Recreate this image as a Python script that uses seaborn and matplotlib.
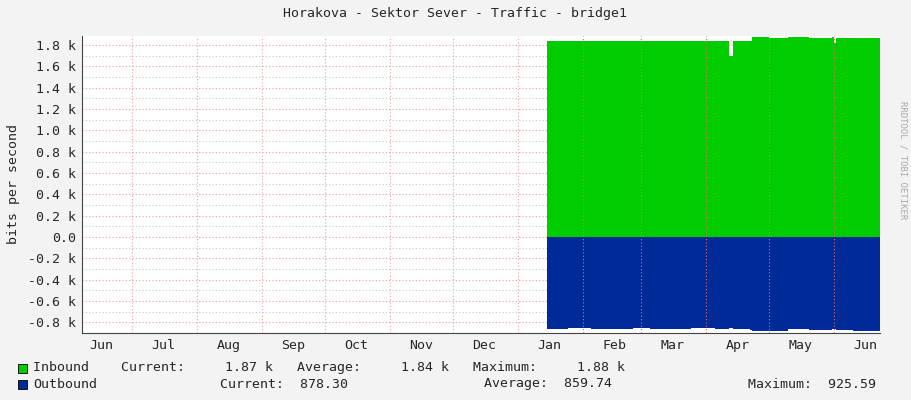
import matplotlib
matplotlib.use("Agg")
import matplotlib.pyplot as plt
import matplotlib.dates as mdates
import seaborn as sns
import pandas as pd
import numpy as np

# data (bits per second)
dates = ["2019-01-15","2019-01-25","2019-02-05","2019-02-15","2019-02-25","2019-03-05",
         "2019-03-15","2019-03-25","2019-04-05","2019-04-10","2019-04-12","2019-04-14",
         "2019-04-18","2019-04-22","2019-04-23","2019-05-01","2019-05-10","2019-05-20",
         "2019-05-31","2019-06-01","2019-06-02","2019-06-10","2019-06-23"]
inbound = [1835,1838,1836,1840,1835,1838,1836,1837,1838,1836,1700,1838,1838,1840,1872,1870,
           1872,1868,1872,1820,1870,1870,1870]
outbound = [-860,-855,-858,-860,-856,-858,-860,-855,-858,-860,-856,-858,-865,-870,-880,
            -878,-860,-870,-858,-860,-870,-878,-878]

sns.set_style("white")
plt.rcParams['font.family'] = ['DejaVu Sans Mono']
df = pd.DataFrame({"t": pd.to_datetime(dates), "in": inbound, "out": outbound})

fig = plt.figure(figsize=(9.11, 4.0), dpi=100, facecolor="#f3f3f3")
ax = fig.add_axes([82/911, 67/400, 798/911, 297/400])
ax.set_facecolor("white")

x0, x1 = pd.Timestamp("2018-06-07"), pd.Timestamp("2019-06-23")
ax.set_xlim(x0, x1)
ax.set_ylim(-900, 1885)

# grid
for v in np.arange(-800, 1900, 100):
    major = (v % 200 == 0)
    ax.axhline(v, color="#f0a0a0" if major else "#c8c8c8", lw=0.8, ls=(0, (1, 2)), zorder=1)
months = pd.date_range("2018-07-01", "2019-06-01", freq="MS")
for m in months:
    ax.axvline(m, color="#f0a0a0", lw=0.8, ls=(0, (1, 2)), zorder=1)

ax.fill_between(df["t"], 0, df["in"], step="post", color="#00cc00", lw=0, zorder=2)
ax.fill_between(df["t"], 0, df["out"], step="post", color="#002a97", lw=0, zorder=2)
for m in months:
    if m > df["t"].iloc[0]:
        ax.axvline(m, color="#e07070", lw=0.8, ls=(0, (1, 2)), zorder=3)

ax.set_yticks(np.arange(-800, 1900, 200))
ax.set_yticklabels([("%.1f k" % (v/1000)) if v != 0 else "0.0" for v in np.arange(-800, 1900, 200)], fontsize=9.5)
mid = [m + pd.Timedelta(days=15) for m in pd.date_range("2018-06-01", "2019-06-01", freq="MS")]
ax.set_xticks(mid)
ax.set_xticklabels([m.strftime("%b") for m in mid], fontsize=9.5)
ax.tick_params(axis="both", length=0, pad=4)
for s in ["top", "right"]:
    ax.spines[s].set_visible(False)
for s in ["left", "bottom"]:
    ax.spines[s].set_color("#444444"); ax.spines[s].set_linewidth(0.8)
ax.set_ylabel("bits per second", fontsize=9.5, labelpad=6)

fig.text(455/911, 1-14/400, "Horakova - Sektor Sever - Traffic - bridge1", ha="center", va="center", fontsize=9.5)
fig.text(903/911, 0.6, "RRDTOOL / TOBI OETIKER", rotation=270, ha="center", va="center", fontsize=6.5, color="#aaaaaa")

fig.patches.append(plt.Rectangle((18/911, 1-373/400), 9/911, 9/400, transform=fig.transFigure, facecolor="#00cc00", edgecolor="black", lw=0.6))
fig.patches.append(plt.Rectangle((18/911, 1-389/400), 9/911, 9/400, transform=fig.transFigure, facecolor="#002a97", edgecolor="black", lw=0.6))
fig.text(33/911, 1-368/400, "Inbound    Current:     1.87 k   Average:     1.84 k   Maximum:     1.88 k", va="center", fontsize=9.5)
fig.text(33/911, 1-384/400, "Outbound", va="center", fontsize=9.5)
fig.text(220/911, 1-384/400, "Current:  878.30", va="center", fontsize=9.5)
fig.text(484/911, 1-384/400, "Average:  859.74", va="center", fontsize=9.5)
fig.text(748/911, 1-384/400, "Maximum:  925.59", va="center", fontsize=9.5)

fig.savefig("out.png", dpi=100, facecolor=fig.get_facecolor())
